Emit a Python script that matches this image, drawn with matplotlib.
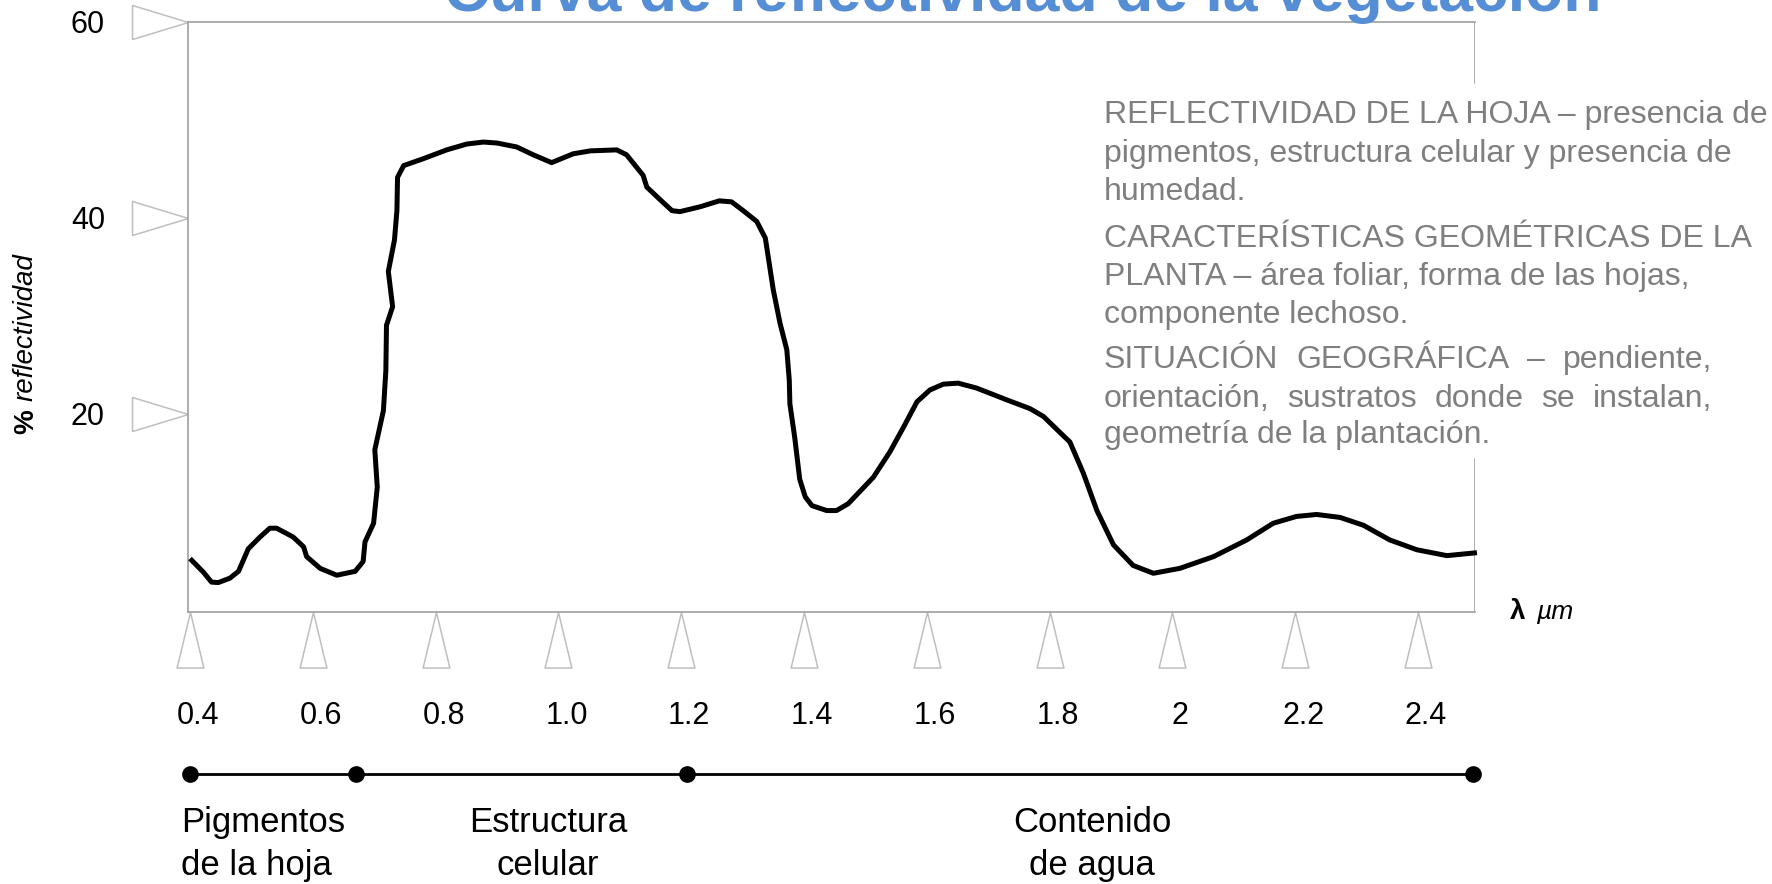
import numpy as np
import matplotlib
matplotlib.use("Agg")
import matplotlib.pyplot as plt
import matplotlib.transforms as mtransforms

plt.rcParams["font.family"] = ["Liberation Sans", "DejaVu Sans"]

# ── Data ──────────────────────────────────────────────────────────────────────
# curve (wavelength in µm, % reflectance)
wavelength = [
    0.400, 0.422, 0.435, 0.446, 0.465, 0.479, 0.495, 0.514, 0.530, 0.541,
    0.568, 0.585, 0.590, 0.612, 0.639, 0.669, 0.682, 0.685, 0.699, 0.705,
    0.701, 0.715, 0.719, 0.720, 0.730, 0.723, 0.733, 0.737, 0.738, 0.748,
    0.780, 0.818, 0.851, 0.878, 0.900, 0.932, 0.959, 0.989, 1.024, 1.052,
    1.095, 1.111, 1.138, 1.144, 1.166, 1.185, 1.198, 1.231, 1.262, 1.282,
    1.301, 1.323, 1.337, 1.350, 1.361, 1.372, 1.376, 1.377, 1.385, 1.393,
    1.402, 1.413, 1.437, 1.453, 1.472, 1.513, 1.540, 1.562, 1.584, 1.605,
    1.627, 1.651, 1.681, 1.730, 1.768, 1.790, 1.818, 1.833, 1.855, 1.877,
    1.904, 1.936, 1.969, 2.012, 2.067, 2.121, 2.164, 2.202, 2.235, 2.273,
    2.311, 2.354, 2.398, 2.447, 2.496,
]
reflectance = [
    5.2, 3.8, 2.8, 2.75, 3.2, 3.9, 6.2, 7.4, 8.3, 8.3,
    7.4, 6.4, 5.4, 4.2, 3.5, 3.9, 4.9, 6.9, 8.8, 12.5,
    16.3, 20.3, 24.4, 29.0, 30.9, 34.5, 37.7, 40.7, 44.1, 45.3,
    46.0, 46.9, 47.5, 47.7, 47.6, 47.2, 46.4, 45.6, 46.5, 46.8,
    46.9, 46.4, 44.3, 43.1, 41.8, 40.7, 40.6, 41.1, 41.7, 41.6,
    40.7, 39.6, 37.9, 32.6, 29.2, 26.5, 23.4, 21.0, 17.5, 13.3,
    11.5, 10.6, 10.1, 10.1, 10.8, 13.5, 16.1, 18.6, 21.2, 22.4,
    23.0, 23.1, 22.6, 21.4, 20.5, 19.7, 18.0, 17.1, 13.9, 10.1,
    6.6, 4.5, 3.7, 4.2, 5.4, 7.1, 8.8, 9.5, 9.7, 9.4,
    8.6, 7.1, 6.1, 5.5, 5.8,
]

x_ticks = [0.4, 0.6, 0.8, 1.0, 1.2, 1.4, 1.6, 1.8, 2.0, 2.2, 2.4]
x_tick_labels = ["0.4", "0.6", "0.8", "1.0", "1.2", "1.4", "1.6", "1.8", "2", "2.2", "2.4"]
y_ticks = [20, 40, 60]
y_tick_labels = ["20", "40", "60"]

# regions along the wavelength axis
band_edges = [0.4, 0.67, 1.21, 2.49]
band_labels = [("Pigmentos", "de la hoja"), ("Estructura", "celular"), ("Contenido", "de agua")]

title = "Curva de reflectividad de la vegetación"
notes = [
    ["REFLECTIVIDAD DE LA HOJA – presencia de",
     "pigmentos, estructura celular y presencia de",
     "humedad."],
    ["CARACTERÍSTICAS GEOMÉTRICAS DE LA",
     "PLANTA – área foliar, forma de las hojas,",
     "componente lechoso."],
    ["SITUACIÓN GEOGRÁFICA – pendiente,",
     "orientación, sustratos donde se instalan,",
     "geometría de la plantación."],
]

# ── Layout (figure pixels, origin top-left) ──────────────────────────────────
W, H = 1772, 884
FRAME = "#a6a6a6"
TRI = "#bfbfbf"
GREY_TXT = "#7f7f7f"


def fx(x):
    return x / W


def fy(y):
    return 1 - y / H


fig = plt.figure(figsize=(W / 100, H / 100), dpi=100)
ax = fig.add_axes([fx(187.6), fy(611.5), (1475 - 187.6) / W, (611.5 - 21.5) / H])
ax.set_xlim(0.3961, 2.4928)
ax.set_ylim(-0.2, 60)

# frame: right side interrupted by the text block
for s in ["left", "top", "bottom"]:
    ax.spines[s].set_color(FRAME)
    ax.spines[s].set_linewidth(1.3)
ax.spines["right"].set_visible(False)
ax.axvline(ax.get_xlim()[1], ymin=0, ymax=(15.4 + 0.2) / 60.2, color=FRAME, lw=1.3)
ax.axvline(ax.get_xlim()[1], ymin=(53.7 + 0.2) / 60.2, ymax=1, color=FRAME, lw=1.3)

ax.plot(wavelength, reflectance, color="black", lw=3.6,
        solid_joinstyle="round", solid_capstyle="butt", clip_on=False, zorder=3)

# ticks: hollow triangles instead of tick marks
ax.tick_params(length=0)
ax.set_xticks(x_ticks, x_tick_labels, fontsize=22)
ax.set_yticks(y_ticks, y_tick_labels, fontsize=22)
ax.tick_params(axis="x", pad=64.5)
ax.tick_params(axis="y", pad=59.5)
shift = mtransforms.ScaledTranslation(8 / 100, 0, fig.dpi_scale_trans)
for lab in ax.get_xticklabels():
    lab.set_transform(lab.get_transform() + shift)

tri_down = [(0, 0), (-0.241, -1), (0.241, -1), (0, 0)]
tri_left = [(0, 0), (-1, 0.304), (-1, -0.304), (0, 0)]
ax.plot(x_ticks, [ax.get_ylim()[0]] * len(x_ticks), ls="none", marker=tri_down,
        ms=80, mfc="white", mec=TRI, mew=1.1, clip_on=False)
ax.plot([ax.get_xlim()[0]] * len(y_ticks), y_ticks, ls="none", marker=tri_left,
        ms=80.6, mfc="white", mec=TRI, mew=1.1, clip_on=False)

# axis captions
fig.text(fx(26), fy(434), "%", rotation=90, ha="center", va="bottom",
         fontsize=20, fontweight="bold")
fig.text(fx(26), fy(401), "reflectividad", rotation=90, ha="center", va="bottom",
         fontsize=20, style="italic")
fig.text(fx(1510), fy(612), "λ", ha="left", va="center", fontsize=20, fontweight="bold")
fig.text(fx(1536), fy(612), "µm", ha="left", va="center", fontsize=19, style="italic")

# band line with dots
band_tr = mtransforms.blended_transform_factory(ax.transData, ax.transAxes)
ax.plot(band_edges, [-0.2754] * len(band_edges), "-o", color="black", lw=2,
        ms=11, transform=band_tr, clip_on=False)
label_x = [(0.386, "left"), (0.983, "center"), (1.869, "center")]
for (x, ha), (l1, l2) in zip(label_x, band_labels):
    ax.annotate(l1, (x, H - 831.7), xycoords=("data", "figure pixels"),
                ha=ha, va="baseline", fontsize=25)
    ax.annotate(l2, (x, H - 875), xycoords=("data", "figure pixels"),
                ha=ha, va="baseline", fontsize=25)

# title, cut by the top edge as in the source slide
fig.text(fx(1023), fy(11), title, ha="center", va="baseline",
         fontsize=45, fontweight="bold", color="#558ed5")

# notes block, last paragraph justified
baselines = [[123.3, 161.7, 200], [246.7, 285, 323], [368, 406.7, 443.3]]
renderer = fig.canvas.get_renderer()
for p, (lines, ys) in enumerate(zip(notes, baselines)):
    for i, (line, y) in enumerate(zip(lines, ys)):
        if p == 2 and i < 2:
            words = line.split(" ")
            ts = [fig.text(0, fy(y), w, va="baseline", fontsize=23, color=GREY_TXT)
                  for w in words]
            widths = [t.get_window_extent(renderer).width for t in ts]
            gap = (1712 - 1104 - sum(widths)) / (len(words) - 1)
            x = 1104
            for t, w in zip(ts, widths):
                t.set_x(fx(x))
                x += w + gap
        else:
            fig.text(fx(1104), fy(y), line, va="baseline", fontsize=23, color=GREY_TXT)

fig.savefig("out.png", dpi=100)
